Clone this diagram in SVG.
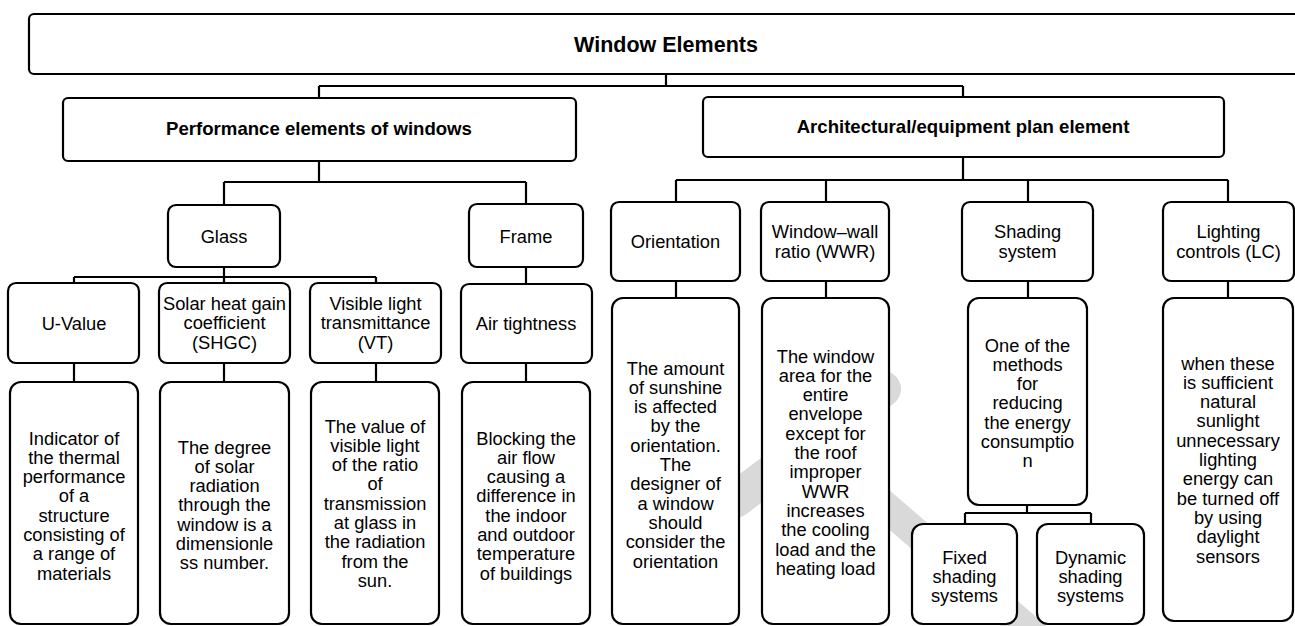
<svg xmlns="http://www.w3.org/2000/svg" width="1295" height="626" viewBox="0 0 1295 626">
<style>
.bx{fill:#fff;stroke:#000;stroke-width:2.2}
.cn{fill:none;stroke:#000;stroke-width:2.2}
.t{font-family:"Liberation Sans",Arial,sans-serif;font-size:18.3px;text-anchor:middle;fill:#000}
.b{font-family:"Liberation Sans",Arial,sans-serif;font-size:18.6px;font-weight:bold;text-anchor:middle;fill:#000}
.wm{fill:none;stroke:#d9d9d9;stroke-linecap:round}
</style>
<rect width="1295" height="626" fill="#fff"/>
<g id="watermark">
<line class="wm" x1="883" y1="389" x2="735" y2="500" stroke-width="36"/>
<line class="wm" x1="820" y1="450" x2="1040" y2="640" stroke-width="30"/>
</g>
<g id="connectors">
<path class="cn" d="M666 74V86M319 86H963M319 86V98M963 86V97"/>
<path class="cn" d="M319 161V182M224 182H526M224 182V205M526 182V204"/>
<path class="cn" d="M224 267V277M74 277H376M74 277V283M224 277V283M376 277V283"/>
<path class="cn" d="M74 363V382M224 363V382M376 363V382"/>
<path class="cn" d="M526 267V284M526 363V382"/>
<path class="cn" d="M963 157V180M676 180H1228M676 180V202M826 180V202M1028 180V202M1228 180V202"/>
<path class="cn" d="M676 281V298M826 281V298M1028 281V298M1228 281V298"/>
<path class="cn" d="M1027 505V513M965 513H1091M965 513V524M1091 513V524"/>
</g>
<g id="window-elements">
<rect class="bx" x="29" y="14" width="1272" height="60" rx="5"/>
<text class="b" x="666" y="52" style="font-size:21.5px">Window Elements</text>
</g>
<g id="performance">
<rect class="bx" x="63" y="98" width="513" height="63" rx="5"/>
<text class="b" x="319" y="135">Performance elements of windows</text>
</g>
<g id="architectural">
<rect class="bx" x="703" y="97" width="521" height="60" rx="5"/>
<text class="b" x="963" y="133">Architectural/equipment plan element</text>
</g>
<g id="glass">
<rect class="bx" x="168" y="205" width="112" height="62" rx="8"/>
<text class="t" x="224" y="243">Glass</text>
</g>
<g id="frame">
<rect class="bx" x="469" y="204" width="114" height="63" rx="8"/>
<text class="t" x="526" y="243">Frame</text>
</g>
<g id="u-value">
<rect class="bx" x="8" y="283" width="131" height="80" rx="8"/>
<text class="t" x="74" y="329.5">U-Value</text>
</g>
<g id="shgc">
<rect class="bx" x="159" y="283" width="131" height="80" rx="8"/>
<text class="t" x="224.5" y="310"><tspan x="224.5">Solar heat gain</tspan><tspan x="224.5" dy="19.3">coefficient</tspan><tspan x="224.5" dy="19.3">(SHGC)</tspan></text>
</g>
<g id="vt">
<rect class="bx" x="310" y="283" width="131" height="80" rx="8"/>
<text class="t" x="375.5" y="310"><tspan x="375.5">Visible light</tspan><tspan x="375.5" dy="19.3">transmittance</tspan><tspan x="375.5" dy="19.3">(VT)</tspan></text>
</g>
<g id="air-tightness">
<rect class="bx" x="461" y="284" width="131" height="79" rx="8"/>
<text class="t" x="526" y="329.5">Air tightness</text>
</g>
<g id="u-desc">
<rect class="bx" x="10" y="382" width="128" height="242" rx="11"/>
<text class="t" y="444.5"><tspan x="74">Indicator of</tspan><tspan x="74" dy="19.3">the thermal</tspan><tspan x="74" dy="19.3">performance</tspan><tspan x="74" dy="19.3">of a</tspan><tspan x="74" dy="19.3">structure</tspan><tspan x="74" dy="19.3">consisting of</tspan><tspan x="74" dy="19.3">a range of</tspan><tspan x="74" dy="19.3">materials</tspan></text>
</g>
<g id="shgc-desc">
<rect class="bx" x="160" y="382" width="129" height="242" rx="11"/>
<text class="t" y="453.5"><tspan x="224.5">The degree</tspan><tspan x="224.5" dy="19.3">of solar</tspan><tspan x="224.5" dy="19.3">radiation</tspan><tspan x="224.5" dy="19.3">through the</tspan><tspan x="224.5" dy="19.3">window is a</tspan><tspan x="224.5" dy="19.3">dimensionle</tspan><tspan x="224.5" dy="19.3">ss number.</tspan></text>
</g>
<g id="vt-desc">
<rect class="bx" x="311" y="382" width="128" height="242" rx="11"/>
<text class="t" y="432.5"><tspan x="375">The value of</tspan><tspan x="375" dy="19.3">visible light</tspan><tspan x="375" dy="19.3">of the ratio</tspan><tspan x="375" dy="19.3">of</tspan><tspan x="375" dy="19.3">transmission</tspan><tspan x="375" dy="19.3">at glass in</tspan><tspan x="375" dy="19.3">the radiation</tspan><tspan x="375" dy="19.3">from the</tspan><tspan x="375" dy="19.3">sun.</tspan></text>
</g>
<g id="air-desc">
<rect class="bx" x="462" y="382" width="128" height="242" rx="11"/>
<text class="t" y="444.5"><tspan x="526">Blocking the</tspan><tspan x="526" dy="19.3">air flow</tspan><tspan x="526" dy="19.3">causing a</tspan><tspan x="526" dy="19.3">difference in</tspan><tspan x="526" dy="19.3">the indoor</tspan><tspan x="526" dy="19.3">and outdoor</tspan><tspan x="526" dy="19.3">temperature</tspan><tspan x="526" dy="19.3">of buildings</tspan></text>
</g>
<g id="orientation">
<rect class="bx" x="611" y="202" width="129" height="79" rx="8"/>
<text class="t" x="675.5" y="248">Orientation</text>
</g>
<g id="wwr">
<rect class="bx" x="761" y="202" width="128" height="79" rx="8"/>
<text class="t" y="238.4"><tspan x="825">Window–wall</tspan><tspan x="825" dy="19.3">ratio (WWR)</tspan></text>
</g>
<g id="shading">
<rect class="bx" x="962" y="202" width="131" height="79" rx="8"/>
<text class="t" y="238.4"><tspan x="1027.5">Shading</tspan><tspan x="1027.5" dy="19.3">system</tspan></text>
</g>
<g id="lighting">
<rect class="bx" x="1163" y="202" width="131" height="79" rx="8"/>
<text class="t" y="238.4"><tspan x="1228.5">Lighting</tspan><tspan x="1228.5" dy="19.3">controls (LC)</tspan></text>
</g>
<g id="orientation-desc">
<rect class="bx" x="612" y="298" width="127" height="326" rx="11"/>
<text class="t" y="374.5"><tspan x="675.5">The amount</tspan><tspan x="675.5" dy="19.3">of sunshine</tspan><tspan x="675.5" dy="19.3">is affected</tspan><tspan x="675.5" dy="19.3">by the</tspan><tspan x="675.5" dy="19.3">orientation.</tspan><tspan x="675.5" dy="19.3">The</tspan><tspan x="675.5" dy="19.3">designer of</tspan><tspan x="675.5" dy="19.3">a window</tspan><tspan x="675.5" dy="19.3">should</tspan><tspan x="675.5" dy="19.3">consider the</tspan><tspan x="675.5" dy="19.3">orientation</tspan></text>
</g>
<g id="wwr-desc">
<rect class="bx" x="762" y="298" width="127" height="326" rx="11"/>
<text class="t" y="362.5"><tspan x="825.5">The window</tspan><tspan x="825.5" dy="19.3">area for the</tspan><tspan x="825.5" dy="19.3">entire</tspan><tspan x="825.5" dy="19.3">envelope</tspan><tspan x="825.5" dy="19.3">except for</tspan><tspan x="825.5" dy="19.3">the roof</tspan><tspan x="825.5" dy="19.3">improper</tspan><tspan x="825.5" dy="19.3">WWR</tspan><tspan x="825.5" dy="19.3">increases</tspan><tspan x="825.5" dy="19.3">the cooling</tspan><tspan x="825.5" dy="19.3">load and the</tspan><tspan x="825.5" dy="19.3">heating load</tspan></text>
</g>
<g id="shading-desc">
<rect class="bx" x="968" y="298" width="119" height="207" rx="11"/>
<text class="t" y="351.5"><tspan x="1027.5">One of the</tspan><tspan x="1027.5" dy="19.3">methods</tspan><tspan x="1027.5" dy="19.3">for</tspan><tspan x="1027.5" dy="19.3">reducing</tspan><tspan x="1027.5" dy="19.3">the energy</tspan><tspan x="1027.5" dy="19.3">consumptio</tspan><tspan x="1027.5" dy="19.3">n</tspan></text>
</g>
<g id="fixed-shading">
<rect class="bx" x="912" y="524" width="105" height="100" rx="11"/>
<text class="t" y="563.5"><tspan x="964.5">Fixed</tspan><tspan x="964.5" dy="19.3">shading</tspan><tspan x="964.5" dy="19.3">systems</tspan></text>
</g>
<g id="dynamic-shading">
<rect class="bx" x="1037" y="524" width="107" height="100" rx="11"/>
<text class="t" y="563.5"><tspan x="1090.5">Dynamic</tspan><tspan x="1090.5" dy="19.3">shading</tspan><tspan x="1090.5" dy="19.3">systems</tspan></text>
</g>
<g id="lighting-desc">
<rect class="bx" x="1163" y="298" width="130" height="323" rx="11"/>
<text class="t" y="369.5"><tspan x="1228">when these</tspan><tspan x="1228" dy="19.3">is sufficient</tspan><tspan x="1228" dy="19.3">natural</tspan><tspan x="1228" dy="19.3">sunlight</tspan><tspan x="1228" dy="19.3">unnecessary</tspan><tspan x="1228" dy="19.3">lighting</tspan><tspan x="1228" dy="19.3">energy can</tspan><tspan x="1228" dy="19.3">be turned off</tspan><tspan x="1228" dy="19.3">by using</tspan><tspan x="1228" dy="19.3">daylight</tspan><tspan x="1228" dy="19.3">sensors</tspan></text>
</g>
</svg>
